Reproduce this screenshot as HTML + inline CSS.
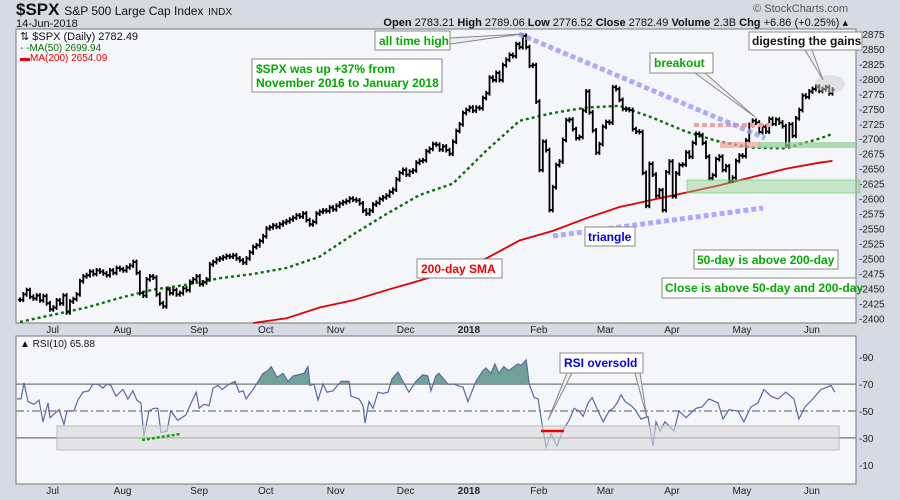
<!DOCTYPE html>
<html><head><meta charset="utf-8"><style>
body{margin:0;background:#d6dae3;font-family:"Liberation Sans",sans-serif;}
svg{display:block}
</style></head><body>
<svg width="900" height="500" viewBox="0 0 900 500">
<rect x="0" y="0" width="900" height="500" fill="#d6dae3"/>
<text x="16" y="15" font-size="17" font-weight="bold" fill="#111">$SPX <tspan font-size="12" font-weight="normal">S&amp;P 500 Large Cap Index</tspan> <tspan font-size="10" font-weight="normal">INDX</tspan></text>
<text x="16" y="27" font-size="11" fill="#111">14-Jun-2018</text>
<text x="848" y="12" font-size="11" fill="#555" text-anchor="end">© StockCharts.com</text>
<text x="848" y="26" font-size="11" fill="#111" text-anchor="end"><tspan font-weight="bold">Open</tspan> 2783.21 <tspan font-weight="bold">High</tspan> 2789.06 <tspan font-weight="bold">Low</tspan> 2776.52 <tspan font-weight="bold">Close</tspan> 2782.49 <tspan font-weight="bold">Volume</tspan> 2.3B <tspan font-weight="bold">Chg</tspan> +6.86 (+0.25%) ▴</text>

<rect x="16" y="29" width="840" height="294" fill="#f4f6fa" stroke="#777"/>
<rect x="16" y="336" width="840" height="148" fill="#f4f6fa" stroke="#777"/>

<g id="price-axis"></g>
<g id="ma200"></g>
<g id="ma50"></g>
<g id="bars"></g>
<g id="rsi"></g>
<g id="xaxes"></g>
</svg>
<script>
const NS='http://www.w3.org/2000/svg';
const closes=[2431,2440,2447,2436,2433,2438,2430,2437,2425,2415,
2418,2430,2425,2438,2410,2428,2432,2440,2462,2470,
2472,2478,2474,2480,2478,2475,2472,2480,2476,2484,
2482,2480,2485,2488,2494,2476,2442,2438,2465,2470,
2468,2440,2425,2420,2448,2442,2447,2440,2442,2450,
2447,2461,2465,2470,2457,2460,2465,2490,2494,2498,
2500,2502,2504,2503,2505,2500,2497,2493,2500,2510,
2519,2522,2529,2537,2550,2552,2555,2553,2557,2560,
2562,2565,2568,2572,2570,2575,2564,2557,2561,2575,
2578,2580,2579,2585,2582,2588,2592,2594,2596,2600,
2598,2597,2592,2580,2575,2580,2590,2593,2599,2602,
2605,2611,2615,2632,2643,2648,2640,2645,2647,2660,
2663,2664,2679,2683,2691,2690,2682,2687,2681,2675,
2695,2713,2724,2743,2748,2752,2747,2752,2751,2768,
2776,2802,2798,2810,2798,2823,2832,2840,2838,2858,
2853,2872,2853,2822,2823,2762,2648,2695,2681,2581,
2619,2656,2662,2698,2731,2732,2716,2701,2703,2747,
2779,2744,2714,2677,2691,2720,2728,2727,2786,2783,
2765,2750,2749,2748,2716,2712,2711,2643,2588,2658,
2640,2605,2614,2581,2644,2662,2604,2642,2656,2657,
2677,2670,2693,2708,2706,2693,2670,2634,2639,2666,
2670,2648,2654,2630,2635,2663,2672,2671,2697,2723,
2730,2727,2711,2720,2712,2733,2725,2732,2727,2721,
2689,2724,2705,2734,2748,2772,2770,2779,2783,2787,
2780,2783,2786,2776,2782];
const maIdx=[0,10,20,30,40,50,60,70,80,90,100,110,120,130,140,150,160,170,180,190,200,210,220,230,240,244];
const ma50=[2394,2406,2418,2434,2448,2456,2467,2474,2484,2503,2540,2574,2606,2625,2680,2730,2743,2752,2755,2735,2712,2695,2685,2684,2700,2708];
const ma200=[null,null,null,null,null,null,null,2385,2400,2418,2430,2447,2463,2480,2500,2530,2546,2567,2586,2598,2610,2622,2636,2650,2660,2663];
// RSI readings at (fractional) bar positions
const rsiIdx=[-1.2,0.3,1.2,2.4,4.2,5.7,6.9,8.4,9,11.7,13.2,14.1,16.2,17.4,18.9,20.7,21.9,23.4,24.9,26.1,27.3,28.8,30.9,32.4,33.9,35.1,36.3,37.2,38.7,40.2,41.4,42.3,44.1,45.3,47.4,49.8,51.4,52.9,53.8,55.3,56.8,58,59.5,60.7,62.8,64.6,65.8,67,67.9,70,71.5,73,74.5,75.4,77.2,79,80.5,82,85.3,86.5,87.1,88.3,89.5,91,92.2,94,96.4,98.8,99.4,101.8,103,103.6,104.8,106,107.5,109,110.5,111.7,113.5,115,116.8,118.9,121,122.5,123.4,124.9,125.8,128.5,130.3,132.4,133,134.5,136.9,139,139.9,141.4,142.6,143.8,145.3,146.8,149.5,150.5,152,152.9,154.4,155.6,156.8,158,159.5,161.3,163.1,164.9,166.4,167.9,169.1,170.6,171.8,173.6,175.1,176.9,178.1,179.3,180.5,181.7,183.5,184.7,186.5,188.6,190.1,191,192.2,193.7,196.4,197.9,200,203,204.8,206.9,209.6,211.1,212.9,215.6,217.4,219.5,221.6,223.4,225.5,227.6,230,232.4,233.9,235.7,238.1,240.5,242.6,243.5,244.7];
const rsiVals=[59,59,71,57,55,58,42,56,45,51,40,50,50,58,64,65,70,70,67,70,69,61,66,59,65,58,56,31,50,52,52,34,35,50,43,47,56,64,52,55,54,67,69,66,70,72,64,65,59,66,72,78,80,83,75,78,72,76,78,83,69,70,58,70,64,65,72,72,61,59,54,41,57,52,64,63,64,74,79,72,64,72,77,76,65,76,78,70,70,68,68,57,72,80,82,78,85,78,83,80,85,84,88,70,60,59,40,23,33,24,36,43,52,50,46,56,60,50,42,50,52,56,62,57,54,51,44,46,24,42,35,42,35,50,45,52,53,59,56,44,51,50,42,53,56,66,61,59,64,59,44,53,59,66,68,69,64,66];
const priceTicks=[2400,2425,2450,2475,2500,2525,2550,2575,2600,2625,2650,2675,2700,2725,2750,2775,2800,2825,2850,2875];
const rsiTicks=[10,30,50,70,90];
const months=['Jul','Aug','Sep','Oct','Nov','Dec','2018','Feb','Mar','Apr','May','Jun'];
const monthStart=[5,26,49,69,90,111,130,151,171,191,212,233];

const X=i=>20+i*3.33;
const PY=p=>34+(2875-p)*0.5985;
const RY=v=>411-(v-50)*1.345;
function el(tag,attrs,parent){const e=document.createElementNS(NS,tag);for(const k in attrs)e.setAttribute(k,attrs[k]);(typeof parent==='string'?document.getElementById(parent):parent).appendChild(e);return e;}

priceTicks.forEach(p=>{
  const t=el('text',{x:859,y:PY(p)+4,'font-size':10,fill:'#222'},'price-axis');
  t.textContent='-'+p;
  
  
});
rsiTicks.forEach(v=>{
  const t=el('text',{x:859,y:RY(v)+4,'font-size':10,fill:'#222'},'price-axis');
  t.textContent='-'+v;
  
  
});
[[70,'none'],[30,'none'],[50,'8,3,2,3']].forEach(([v,d])=>{
  const l=el('line',{x1:16,x2:856,y1:RY(v),y2:RY(v),stroke:'#777','stroke-width':1.2,'stroke-dasharray':d},'rsi');
  
  
});
function maPath(vals,g,color,dash,w){
  let d='';vals.forEach((v,k)=>{if(v==null)return;const y=Math.min(PY(v),323);d+=(d?'L':'M')+X(maIdx[k]).toFixed(1)+','+y.toFixed(1);});
  return el('path',{d:d,fill:'none',stroke:color,'stroke-width':w,'stroke-dasharray':dash},g);
}
const m2=maPath(ma200,'ma200','#e00000','none',1.8);


const m5=maPath(ma50,'ma50','#0a6e0a','3,3',2.4);


closes.forEach((c,i)=>{
  const o=i?closes[i-1]:c;
  const hi=Math.max(o,c)+4, lo=Math.min(o,c)-4;
  const x=X(i);
  const b=el('path',{d:`M${x},${PY(hi)}V${PY(lo)}M${x-2},${PY(o)}H${x}M${x},${PY(c)}H${x+2}`,stroke:'#000','stroke-width':1.8,fill:'none'},'bars');
  
  
});
const RX=i=>Math.max(17,X(i));
let rd='';rsiIdx.forEach((ix,k)=>{rd+=(k?'L':'M')+RX(ix).toFixed(1)+','+RY(rsiVals[k]).toFixed(1);});
const svg=document.querySelector('svg');
const defs=el('defs',{},svg);
const clip=el('clipPath',{id:'ob'},defs);
el('rect',{x:16,y:336,width:840,height:RY(70)-336},clip);
const last=rsiIdx[rsiIdx.length-1];
const fa=el('path',{d:rd+`L${RX(last)},${RY(70)}L${RX(rsiIdx[0])},${RY(70)}Z`,fill:'#6fa39a','clip-path':'url(#ob)'},'rsi');


const rl=el('path',{d:rd,fill:'none',stroke:'#5a6aa0','stroke-width':1.2},'rsi');


months.forEach((m,k)=>{
  [333,494].forEach(y=>{
    const t=el('text',{x:X(monthStart[k])+16,y:y,'font-size':10,'text-anchor':'middle',fill:'#222','font-weight':m==='2018'?'bold':'normal'},'xaxes');
    t.textContent=m;
    
    
  });
});
</script>
<svg style="position:absolute;left:0;top:0" width="900" height="500">
<rect x="687" y="180" width="173" height="13" fill="#8fd08f" fill-opacity="0.45" stroke="#6c6" stroke-opacity="0.6"/>
<rect x="758" y="142" width="98" height="6" fill="#8fd08f" fill-opacity="0.7"/>
<line x1="694" y1="125" x2="770" y2="125" stroke="#f3a0a0" stroke-width="4" stroke-dasharray="5,3"/>
<rect x="720" y="142" width="40" height="6" fill="#f3a0a0" fill-opacity="0.7"/>
<line x1="519" y1="34" x2="765" y2="138" stroke="#9999ff" stroke-width="5" stroke-dasharray="5,3" opacity="0.8"/>
<line x1="553" y1="236" x2="763" y2="208" stroke="#9999ff" stroke-width="5" stroke-dasharray="5,3" opacity="0.8"/>
<ellipse cx="830" cy="84" rx="15" ry="9" fill="#ccc" fill-opacity="0.5"/>
<rect x="57" y="426" width="782" height="24" fill="#d8d8d8" fill-opacity="0.6" stroke="#bbb"/>
<line x1="142" y1="440" x2="180" y2="434" stroke="#0a0" stroke-width="2.5" stroke-dasharray="3,2"/>
<line x1="541" y1="431" x2="564" y2="431" stroke="#e00" stroke-width="2.5"/>
<g font-family="Liberation Sans, sans-serif" font-weight="bold" font-size="12">
<polygon points="450,38 522,34 450,44" fill="#eee" stroke="#888"/>
<rect x="375" y="31" width="75" height="19" fill="#fff" stroke="#888"/>
<text x="379" y="45" fill="#0a0">all time high</text>
<rect x="252" y="59" width="190" height="33" fill="#fff" stroke="#888"/>
<text x="256" y="73" fill="#0a0">$SPX was up +37% from</text>
<text x="256" y="87" fill="#0a0">November 2016 to January 2018</text>
<polygon points="695,73 755,117 705,73" fill="#eee" stroke="#888"/>
<rect x="650" y="53" width="63" height="20" fill="#fff" stroke="#888"/>
<text x="654" y="67" fill="#0a0">breakout</text>
<polygon points="805,50 823,80 812,50" fill="#eee" stroke="#888"/>
<rect x="749" y="32" width="113" height="18" fill="#fff" stroke="#888"/>
<text x="752" y="45" fill="#111">digesting the gains</text>
<rect x="417" y="259" width="85" height="19" fill="#fff" stroke="#888"/>
<text x="421" y="273" fill="#e00">200-day SMA</text>
<rect x="585" y="227" width="50" height="19" fill="#fff" stroke="#888"/>
<text x="588" y="241" fill="#00e">triangle</text>
<rect x="694" y="250" width="144" height="19" fill="#fff" stroke="#888"/>
<text x="697" y="264" fill="#0a0">50-day is above 200-day</text>
<rect x="662" y="278" width="194" height="20" fill="#fff" stroke="#888"/>
<text x="665" y="292" fill="#0a0">Close is above 50-day and 200-day</text>
<polygon points="567,373 548,420 572,373 635,373 647,418 640,373" fill="#eee" stroke="#888"/>
<rect x="560" y="353" width="83" height="20" fill="#fff" stroke="#888"/>
<text x="564" y="367" fill="#00e">RSI oversold</text>
</g>
<g font-family="Liberation Sans, sans-serif" font-size="11">
<text x="20" y="40" fill="#111">⇅ $SPX (Daily) 2782.49</text>
<text x="20" y="51" fill="#0a6e0a" font-size="10">- -MA(50) 2699.94</text>
<text x="20" y="61" fill="#e00" font-size="10">▬MA(200) 2654.09</text>
<text x="20" y="347" fill="#111" font-size="10">▲ RSI(10) 65.88</text>
</g>
</svg>
</body></html>
